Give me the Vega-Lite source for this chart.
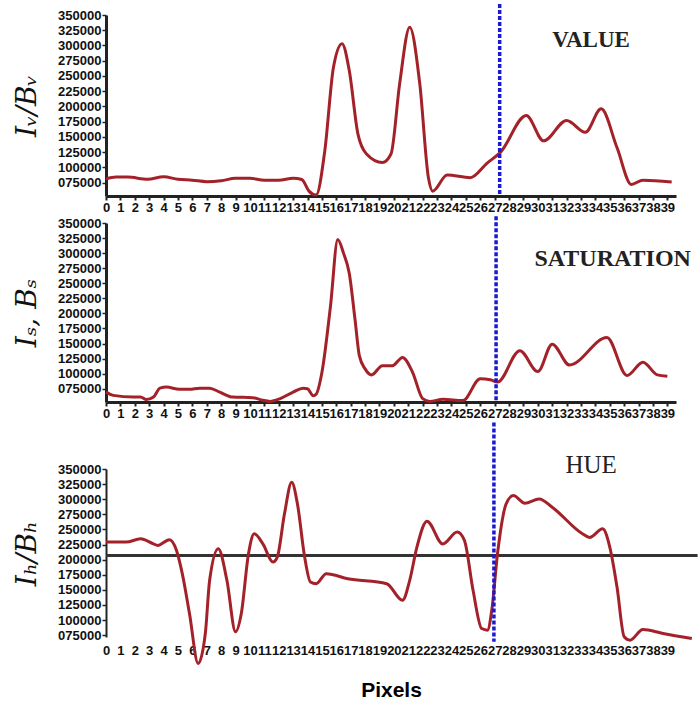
{
  "$schema": "https://vega.github.io/schema/vega-lite/v6.json",
  "background": "white",
  "padding": {"left": 13, "top": 2, "right": 0, "bottom": 0},
  "spacing": 0,
  "config": {
    "view": {"stroke": null},
    "axis": {
      "grid": false,
      "labelFont": "Liberation Sans",
      "labelFontWeight": "bold",
      "labelFontSize": 13,
      "labelColor": "#111",
      "domainColor": "#222",
      "tickColor": "#222"
    }
  },
  "datasets": {
    "value": [
      {"pixel": 0, "intensity": 81000}, {"pixel": 0.7, "intensity": 84000}, {"pixel": 1.5, "intensity": 84000},
      {"pixel": 2.9, "intensity": 80500}, {"pixel": 4.0, "intensity": 84500}, {"pixel": 5.0, "intensity": 80500},
      {"pixel": 6.0, "intensity": 79000}, {"pixel": 7.0, "intensity": 76500}, {"pixel": 8.0, "intensity": 78000},
      {"pixel": 9.0, "intensity": 82000}, {"pixel": 10.0, "intensity": 82000}, {"pixel": 11.0, "intensity": 79000},
      {"pixel": 12.0, "intensity": 79000}, {"pixel": 13.0, "intensity": 82000}, {"pixel": 13.6, "intensity": 80000},
      {"pixel": 14.1, "intensity": 61000}, {"pixel": 14.6, "intensity": 54600}, {"pixel": 15.2, "intensity": 127000},
      {"pixel": 15.8, "intensity": 264000}, {"pixel": 16.4, "intensity": 303000}, {"pixel": 16.9, "intensity": 259000},
      {"pixel": 17.5, "intensity": 155000}, {"pixel": 18.1, "intensity": 122000}, {"pixel": 19.2, "intensity": 108000},
      {"pixel": 19.8, "intensity": 122000}, {"pixel": 20.4, "intensity": 237000}, {"pixel": 21.1, "intensity": 330000},
      {"pixel": 21.8, "intensity": 237000}, {"pixel": 22.4, "intensity": 83000}, {"pixel": 22.7, "intensity": 61000},
      {"pixel": 23.7, "intensity": 87500}, {"pixel": 25.3, "intensity": 83000}, {"pixel": 26.5, "intensity": 107500},
      {"pixel": 27.4, "intensity": 124500}, {"pixel": 29.2, "intensity": 185000}, {"pixel": 30.4, "intensity": 143500},
      {"pixel": 32.0, "intensity": 177000}, {"pixel": 33.3, "intensity": 157500}, {"pixel": 34.4, "intensity": 196000},
      {"pixel": 35.5, "intensity": 132500}, {"pixel": 36.5, "intensity": 72000}, {"pixel": 37.3, "intensity": 79000},
      {"pixel": 39.3, "intensity": 76000}
    ],
    "saturation": [
      {"pixel": 0, "intensity": 69400}, {"pixel": 0.5, "intensity": 64000}, {"pixel": 1.9, "intensity": 61200},
      {"pixel": 2.4, "intensity": 61200}, {"pixel": 2.8, "intensity": 57000}, {"pixel": 3.3, "intensity": 61200},
      {"pixel": 3.75, "intensity": 76000}, {"pixel": 4.2, "intensity": 77700}, {"pixel": 5.1, "intensity": 74000},
      {"pixel": 5.8, "intensity": 74000}, {"pixel": 6.5, "intensity": 76000}, {"pixel": 7.2, "intensity": 76000},
      {"pixel": 7.9, "intensity": 69400}, {"pixel": 8.8, "intensity": 61200}, {"pixel": 10.2, "intensity": 60200},
      {"pixel": 10.9, "intensity": 55800}, {"pixel": 11.4, "intensity": 54000}, {"pixel": 12.1, "intensity": 58600},
      {"pixel": 13.0, "intensity": 69400}, {"pixel": 13.7, "intensity": 76000}, {"pixel": 14.0, "intensity": 75000},
      {"pixel": 14.4, "intensity": 63500}, {"pixel": 14.6, "intensity": 66000}, {"pixel": 15.0, "intensity": 102000},
      {"pixel": 15.6, "intensity": 213000}, {"pixel": 16.1, "intensity": 322600}, {"pixel": 16.5, "intensity": 300000},
      {"pixel": 16.9, "intensity": 266700}, {"pixel": 17.3, "intensity": 190000}, {"pixel": 17.6, "intensity": 130000},
      {"pixel": 18.0, "intensity": 108000}, {"pixel": 18.45, "intensity": 98000}, {"pixel": 19.2, "intensity": 113300},
      {"pixel": 19.9, "intensity": 113300}, {"pixel": 20.6, "intensity": 127000}, {"pixel": 21.3, "intensity": 102300},
      {"pixel": 22.0, "intensity": 58600}, {"pixel": 22.5, "intensity": 54000}, {"pixel": 23.4, "intensity": 57400},
      {"pixel": 24.8, "intensity": 55500}, {"pixel": 26.0, "intensity": 91500}, {"pixel": 26.7, "intensity": 90000},
      {"pixel": 27.2, "intensity": 86000}, {"pixel": 28.75, "intensity": 138000}, {"pixel": 30.0, "intensity": 103400},
      {"pixel": 31.0, "intensity": 149000}, {"pixel": 32.2, "intensity": 114400}, {"pixel": 34.8, "intensity": 160000},
      {"pixel": 36.2, "intensity": 97000}, {"pixel": 37.3, "intensity": 118800}, {"pixel": 38.3, "intensity": 98000},
      {"pixel": 39.0, "intensity": 95700}
    ],
    "hue": [
      {"pixel": 0, "intensity": 229000}, {"pixel": 1.4, "intensity": 229000}, {"pixel": 2.4, "intensity": 234500},
      {"pixel": 3.3, "intensity": 226000}, {"pixel": 3.6, "intensity": 223600}, {"pixel": 4.4, "intensity": 233000},
      {"pixel": 4.9, "intensity": 215300}, {"pixel": 5.3, "intensity": 176800}, {"pixel": 5.8, "intensity": 110800},
      {"pixel": 6.4, "intensity": 28300}, {"pixel": 6.9, "intensity": 77800}, {"pixel": 7.2, "intensity": 165800},
      {"pixel": 7.8, "intensity": 218000}, {"pixel": 8.4, "intensity": 165800}, {"pixel": 9.0, "intensity": 80600},
      {"pixel": 9.4, "intensity": 110800}, {"pixel": 9.9, "intensity": 209800}, {"pixel": 10.3, "intensity": 242800},
      {"pixel": 10.9, "intensity": 226000}, {"pixel": 11.6, "intensity": 196000}, {"pixel": 11.9, "intensity": 204300},
      {"pixel": 12.4, "intensity": 275800}, {"pixel": 12.9, "intensity": 328000}, {"pixel": 13.3, "intensity": 292300},
      {"pixel": 13.8, "intensity": 204300}, {"pixel": 14.2, "intensity": 163000}, {"pixel": 14.6, "intensity": 160200},
      {"pixel": 15.3, "intensity": 176800}, {"pixel": 16.8, "intensity": 168500}, {"pixel": 19.5, "intensity": 160200},
      {"pixel": 20.6, "intensity": 132800}, {"pixel": 21.1, "intensity": 165800}, {"pixel": 21.6, "intensity": 220800},
      {"pixel": 22.3, "intensity": 263700}, {"pixel": 23.4, "intensity": 226000}, {"pixel": 24.4, "intensity": 245600},
      {"pixel": 24.9, "intensity": 231800}, {"pixel": 25.5, "intensity": 149300}, {"pixel": 26.1, "intensity": 86000},
      {"pixel": 26.5, "intensity": 83300}, {"pixel": 26.8, "intensity": 116300}, {"pixel": 27.2, "intensity": 209800},
      {"pixel": 27.8, "intensity": 292300}, {"pixel": 28.3, "intensity": 306000}, {"pixel": 29.1, "intensity": 293400},
      {"pixel": 30.1, "intensity": 300500}, {"pixel": 31.0, "intensity": 286800}, {"pixel": 33.1, "intensity": 242800},
      {"pixel": 33.6, "intensity": 236800}, {"pixel": 34.5, "intensity": 251000}, {"pixel": 35.0, "intensity": 220800},
      {"pixel": 35.5, "intensity": 155000}, {"pixel": 36.0, "intensity": 72300}, {"pixel": 36.4, "intensity": 66800},
      {"pixel": 37.3, "intensity": 84400}, {"pixel": 38.7, "intensity": 77800}, {"pixel": 40.7, "intensity": 69500}
    ],
    "markers": [
      {"panel": "value", "pixel": 27.35, "intensity": 368000, "bottom": 53000},
      {"panel": "saturation", "pixel": 27.1, "intensity": 361000, "bottom": 53000},
      {"panel": "hue", "pixel": 26.95, "intensity": 427000, "bottom": 64000}
    ],
    "baseline": [
      {"panel": "hue", "pixel": 0, "end": 41.1, "intensity": 207000}
    ],
    "labels": [
      {"panel": "value", "pixel": 33.7, "intensity": 309600, "text": "VALUE"},
      {"panel": "saturation", "pixel": 35.2, "intensity": 290800, "text": "SATURATION"},
      {"panel": "hue", "pixel": 33.7, "intensity": 356000, "text": "HUE"}
    ]
  },
  "vconcat": [
    {
      "width": 570,
      "height": 181,
      "layer": [
        {
          "data": {"name": "value"},
          "mark": {"type": "line", "interpolate": "monotone", "color": "#a3222a", "strokeWidth": 3},
          "encoding": {
            "x": {"field": "pixel", "type": "quantitative", "scale": {"domain": [0, 39.6], "nice": false, "zero": false},
              "axis": {"values": [0,1,2,3,4,5,6,7,8,9,10,11,12,13,14,15,16,17,18,19,20,21,22,23,24,25,26,27,28,29,30,31,32,33,34,35,36,37,38,39], "tickCount": 100, "format": "d", "title": null, "labelAngle": 0, "labelOverlap": false, "labelFlush": false, "labelBound": false, "labelPadding": 1, "tickSize": 4, "tickWidth": 2, "domainWidth": 3}},
            "y": {"field": "intensity", "type": "quantitative", "scale": {"domain": [53000, 350000], "nice": false, "zero": false},
              "axis": {"values": [75000,100000,125000,150000,175000,200000,225000,250000,275000,300000,325000,350000], "tickCount": 100, "format": "06d", "labelOverlap": false, "labelFlush": false, "labelBound": false, "title": "Iᵥ/Bᵥ", "titleFont": "DejaVu Serif", "titleFontStyle": "italic", "titleFontWeight": "normal", "titleFontSize": 28, "titleColor": "#111", "titlePadding": 16, "labelPadding": 1, "tickSize": 4, "tickWidth": 1.5, "domainWidth": 3}}
          }
        },
        {
          "data": {"name": "markers"},
          "transform": [{"filter": "datum.panel === 'value'"}],
          "mark": {"type": "rule", "color": "#1a1ad2", "strokeWidth": 3.5, "strokeDash": [4, 2]},
          "encoding": {
            "x": {"field": "pixel", "type": "quantitative"},
            "y": {"field": "intensity", "type": "quantitative"},
            "y2": {"field": "bottom"}
          }
        },
        {
          "data": {"name": "labels"},
          "transform": [{"filter": "datum.panel === 'value'"}],
          "mark": {"type": "text", "font": "Liberation Serif", "fontWeight": "bold", "fontSize": 23, "color": "#222"},
          "encoding": {
            "x": {"field": "pixel", "type": "quantitative"},
            "y": {"field": "intensity", "type": "quantitative"},
            "text": {"field": "text"}
          }
        }
      ]
    },
    {
      "width": 570,
      "height": 179,
      "layer": [
        {
          "data": {"name": "saturation"},
          "mark": {"type": "line", "interpolate": "monotone", "color": "#a3222a", "strokeWidth": 3},
          "encoding": {
            "x": {"field": "pixel", "type": "quantitative", "scale": {"domain": [0, 39.6], "nice": false, "zero": false},
              "axis": {"values": [0,1,2,3,4,5,6,7,8,9,10,11,12,13,14,15,16,17,18,19,20,21,22,23,24,25,26,27,28,29,30,31,32,33,34,35,36,37,38,39], "tickCount": 100, "format": "d", "title": null, "labelAngle": 0, "labelOverlap": false, "labelFlush": false, "labelBound": false, "labelPadding": 1, "tickSize": 4, "tickWidth": 2, "domainWidth": 3}},
            "y": {"field": "intensity", "type": "quantitative", "scale": {"domain": [53000, 350000], "nice": false, "zero": false},
              "axis": {"values": [75000,100000,125000,150000,175000,200000,225000,250000,275000,300000,325000,350000], "tickCount": 100, "format": "06d", "labelOverlap": false, "labelFlush": false, "labelBound": false, "title": "Iₛ, Bₛ", "titleFont": "DejaVu Serif", "titleFontStyle": "italic", "titleFontWeight": "normal", "titleFontSize": 28, "titleColor": "#111", "titlePadding": 16, "labelPadding": 1, "tickSize": 4, "tickWidth": 1.5, "domainWidth": 3}}
          }
        },
        {
          "data": {"name": "markers"},
          "transform": [{"filter": "datum.panel === 'saturation'"}],
          "mark": {"type": "rule", "color": "#1a1ad2", "strokeWidth": 3.5, "strokeDash": [4, 2]},
          "encoding": {
            "x": {"field": "pixel", "type": "quantitative"},
            "y": {"field": "intensity", "type": "quantitative"},
            "y2": {"field": "bottom"}
          }
        },
        {
          "data": {"name": "labels"},
          "transform": [{"filter": "datum.panel === 'saturation'"}],
          "mark": {"type": "text", "font": "Liberation Serif", "fontWeight": "bold", "fontSize": 24, "color": "#222"},
          "encoding": {
            "x": {"field": "pixel", "type": "quantitative"},
            "y": {"field": "intensity", "type": "quantitative"},
            "text": {"field": "text"}
          }
        }
      ]
    },
    {
      "width": 570,
      "height": 168,
      "layer": [
        {
          "data": {"name": "baseline"},
          "mark": {"type": "rule", "color": "#333", "strokeWidth": 3},
          "encoding": {
            "x": {"field": "pixel", "type": "quantitative", "scale": {"domain": [0, 39.6], "nice": false, "zero": false},
              "axis": {"values": [0,1,2,3,4,5,6,7,8,9,10,11,12,13,14,15,16,17,18,19,20,21,22,23,24,25,26,27,28,29,30,31,32,33,34,35,36,37,38,39], "tickCount": 100, "format": "d", "labelOverlap": false, "labelFlush": false, "labelBound": false, "title": "Pixels", "titleFont": "Liberation Sans", "titleFontWeight": "bold", "titleFontSize": 21, "titleColor": "#000", "titlePadding": 22, "labelAngle": 0, "labelPadding": 7, "ticks": false, "domain": false}},
            "x2": {"field": "end"},
            "y": {"field": "intensity", "type": "quantitative", "scale": {"domain": [72000, 350000], "nice": false, "zero": false},
              "axis": {"values": [75000,100000,125000,150000,175000,200000,225000,250000,275000,300000,325000,350000], "tickCount": 100, "format": "06d", "labelOverlap": false, "labelFlush": false, "labelBound": false, "title": "Iₕ/Bₕ", "titleFont": "DejaVu Serif", "titleFontStyle": "italic", "titleFontWeight": "normal", "titleFontSize": 28, "titleColor": "#111", "titlePadding": 16, "labelPadding": 1, "tickSize": 4, "tickWidth": 1.5, "domainWidth": 2}}
          }
        },
        {
          "data": {"name": "hue"},
          "mark": {"type": "line", "interpolate": "monotone", "color": "#a3222a", "strokeWidth": 3},
          "encoding": {
            "x": {"field": "pixel", "type": "quantitative"},
            "y": {"field": "intensity", "type": "quantitative"}
          }
        },
        {
          "data": {"name": "markers"},
          "transform": [{"filter": "datum.panel === 'hue'"}],
          "mark": {"type": "rule", "color": "#1a1ad2", "strokeWidth": 3.5, "strokeDash": [4, 2]},
          "encoding": {
            "x": {"field": "pixel", "type": "quantitative"},
            "y": {"field": "intensity", "type": "quantitative"},
            "y2": {"field": "bottom"}
          }
        },
        {
          "data": {"name": "labels"},
          "transform": [{"filter": "datum.panel === 'hue'"}],
          "mark": {"type": "text", "font": "Liberation Serif", "fontWeight": "normal", "fontSize": 25, "color": "#222"},
          "encoding": {
            "x": {"field": "pixel", "type": "quantitative"},
            "y": {"field": "intensity", "type": "quantitative"},
            "text": {"field": "text"}
          }
        }
      ]
    }
  ]
}
